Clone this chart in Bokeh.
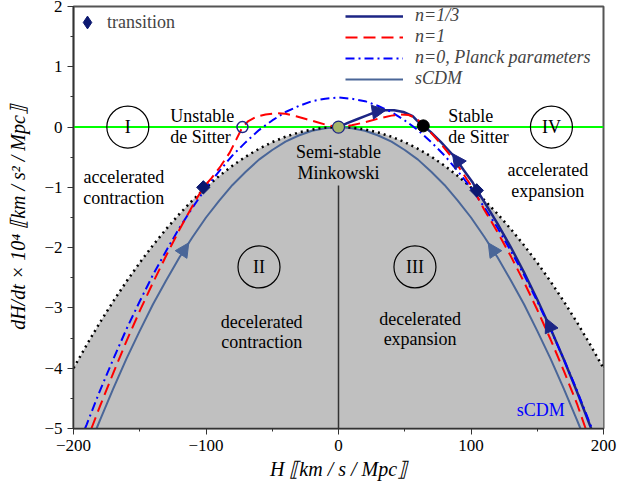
from bokeh.plotting import figure
from bokeh.models import (Range1d, SingleIntervalTicker, CustomJSTickFormatter, Legend,
                          LegendItem, Arrow, NormalHead, Span)
from bokeh.core.properties import value
from bokeh.embed import file_html
from bokeh.resources import INLINE

# ---------------- data ----------------
# q = 0 boundary (dotted): dH/dt = -H^2
BOUND_H = [-200, -190, -180, -170, -160, -150, -140, -130, -120, -110, -100, -90, -80, -70, -60, -50, -40,
           -30, -20, -10, 0, 10, 20, 30, 40, 50, 60, 70, 80, 90, 100, 110, 120, 130, 140, 150, 160,
           170, 180, 190, 200]
BOUND_Y = [-4.00, -3.61, -3.24, -2.89, -2.56, -2.25, -1.96, -1.69, -1.44, -1.21, -1.00, -0.81, -0.64,
           -0.49, -0.36, -0.25, -0.16, -0.09, -0.04, -0.01, 0.0, -0.01, -0.04, -0.09, -0.16, -0.25,
           -0.36, -0.49, -0.64, -0.81, -1.00, -1.21, -1.44, -1.69, -1.96, -2.25, -2.56, -2.89, -3.24,
           -3.61, -4.00]

# sCDM
SCDM_H = [-182.6, -180, -170, -160, -150, -140, -130, -120, -110, -100, -90, -80, -70, -60, -50, -40,
          -30, -20, -10, 0, 10, 20, 30, 40, 50, 60, 70, 80, 90, 100, 110, 120, 130, 140, 150, 160, 170,
          180, 182.6]
SCDM_Y = [-5.0, -4.86, -4.34, -3.84, -3.38, -2.94, -2.54, -2.16, -1.82, -1.50, -1.22, -0.96, -0.74,
          -0.54, -0.38, -0.24, -0.14, -0.06, -0.02, 0.0, -0.02, -0.06, -0.14, -0.24, -0.38, -0.54,
          -0.74, -0.96, -1.22, -1.50, -1.82, -2.16, -2.54, -2.94, -3.38, -3.84, -4.34, -4.86, -5.0]

# n = 0, Planck parameters
N0_H = [-191.3, -190, -180, -170, -160, -150, -140, -130, -120, -110, -100, -90, -80, -70, -60, -50,
        -40, -30, -20, -10, 0, 10, 20, 30, 40, 50, 60, 70, 80, 90, 100, 110, 120, 130, 140, 150, 160,
        170, 180, 190, 191.3]
N0_Y = [-5.0, -4.93, -4.37, -3.85, -3.35, -2.89, -2.45, -2.05, -1.67, -1.33, -1.01, -0.73, -0.47,
        -0.25, -0.05, 0.11, 0.25, 0.35, 0.43, 0.47, 0.49, 0.47, 0.43, 0.35, 0.25, 0.11, -0.05, -0.25,
        -0.47, -0.73, -1.01, -1.33, -1.67, -2.05, -2.45, -2.89, -3.35, -3.85, -4.37, -4.93, -5.0]

# n = 1
N1_H = [-186.5, -180, -170, -160, -150, -140, -130, -120, -110, -102, -96, -89, -82, -77, -72.5, -68,
        -62, -55, -47, -40, -32, -24, -16, -8, 0, 10, 20, 30, 40, 47, 53, 58, 62, 65, 70, 77, 85, 91,
        97, 101, 110, 120, 130, 140, 150, 160, 170, 180, 186.5]
N1_Y = [-5.0, -4.63, -4.08, -3.55, -3.05, -2.58, -2.13, -1.70, -1.30, -1.00, -0.85, -0.65, -0.42,
        -0.20, 0.0, 0.10, 0.17, 0.21, 0.23, 0.22, 0.18, 0.13, 0.08, 0.03, 0.0, 0.03, 0.08, 0.14, 0.19,
        0.21, 0.20, 0.15, 0.08, 0.02, -0.10, -0.27, -0.49, -0.67, -0.87, -1.00, -1.37, -1.74, -2.14,
        -2.57, -3.03, -3.52, -4.04, -4.59, -5.0]

# n = 1/3
N13_H = [0, 7, 14, 21, 28, 35, 42, 49, 56, 60, 64, 69.5, 77, 82, 87, 94.7, 101, 104.3, 110, 120, 130,
         140, 150, 160, 170, 180, 190.7]
N13_Y = [0.0, 0.07, 0.13, 0.19, 0.25, 0.28, 0.28, 0.25, 0.18, 0.09, 0.02, -0.08, -0.24, -0.36, -0.48,
         -0.72, -0.91, -1.04, -1.24, -1.60, -1.99, -2.41, -2.86, -3.34, -3.85, -4.39, -5.0]

# special points
TRANS_H, TRANS_Y = [-102, 104.3], [-1.0, -1.05]
UNSTABLE_DS = ([-72.5], [0.0])
STABLE_DS = ([64], [0.02])
MINKOWSKI = ([0], [0.0])
MINK_LINE_Y = [-0.97, -5.0]

# flow arrows: (x_start, y_start, x_end, y_end)
SCDM_ARROWS = [(-119, -2.12, -113, -1.92), (119, -2.12, 113, -1.92)]
N13_ARROWS = [(29, 0.26, 36, 0.285), (90.5, -0.58, 86, -0.44), (160, -3.34, 156.5, -3.17)]

# region markers and texts
ROMAN = ["I", "II", "III", "IV"]
ROMAN_H = [-159, -60, 57.7, 160.7]
ROMAN_Y = [0.0, -2.32, -2.32, 0.0]

CENTER_TXT = ["accelerated", "contraction", "accelerated", "expansion", "Semi-stable", "Minkowski",
              "decelerated", "contraction", "decelerated", "expansion"]
CENTER_H = [-162, -162, 158, 158, 0, 0, -58, -58, 61.6, 61.6]
CENTER_Y = [-0.83, -1.18, -0.72, -1.06, -0.41, -0.76, -3.23, -3.57, -3.18, -3.52]

LEFT_TXT = ["Unstable", "de Sitter", "Stable", "de Sitter"]
LEFT_H = [-127, -127, 82.8, 82.8]
LEFT_Y = [0.18, -0.17, 0.18, -0.17]

NAVY = "#1c2585"
RED = "#ff0000"
BLUE = "#0000ff"
STEEL = "#4a6698"
DIAM = "#0c1870"
SERIF = "Liberation Serif"

p = figure(width=631, height=486, x_range=Range1d(-200, 200), y_range=Range1d(-5, 2),
           output_backend="svg", toolbar_location=None,
           min_border_left=73, min_border_right=28, min_border_top=6, min_border_bottom=58)
p.xgrid.visible = False
p.ygrid.visible = False
p.outline_line_color = "#555555"
p.outline_line_width = 2
p.background_fill_color = "white"

# gray region
p.varea(x=BOUND_H, y1=[-5.0] * len(BOUND_H), y2=BOUND_Y, fill_color="#c0c0c0")
p.add_layout(Span(location=0, dimension="width", line_color="#00ff00", line_width=2, level="underlay"))
p.segment(x0=[MINKOWSKI[0][0]], y0=[MINK_LINE_Y[0]], x1=[MINKOWSKI[0][0]], y1=[MINK_LINE_Y[1]],
          line_color="#333333", line_width=1.5)

r_scdm = p.line(SCDM_H, SCDM_Y, line_color=STEEL, line_width=2)
p.line(BOUND_H, BOUND_Y, line_color="black", line_width=2.5, line_dash="2 4")
r_n13 = p.line(N13_H, N13_Y, line_color=NAVY, line_width=2.5)
r_n0 = p.line(N0_H, N0_Y, line_color=BLUE, line_width=2, line_dash="9 4 2 4")
r_n1 = p.line(N1_H, N1_Y, line_color=RED, line_width=2, line_dash="12 6")

for (xs, ys, xe, ye) in SCDM_ARROWS:
    p.add_layout(Arrow(end=NormalHead(size=14, fill_color=STEEL, line_color=STEEL),
                       x_start=xs, y_start=ys, x_end=xe, y_end=ye, line_alpha=0))
for (xs, ys, xe, ye) in N13_ARROWS:
    p.add_layout(Arrow(end=NormalHead(size=14, fill_color=NAVY, line_color=NAVY),
                       x_start=xs, y_start=ys, x_end=xe, y_end=ye, line_alpha=0))

# transition points: diamond glyph (used by the legend) covered by a rotated square
r_tr = p.scatter(TRANS_H, TRANS_Y, marker="diamond", size=12, fill_color=DIAM, line_color=DIAM)
p.scatter(TRANS_H, TRANS_Y, marker="square", size=9.5, angle=0.785,
          fill_color=DIAM, line_color=DIAM)
p.scatter(*UNSTABLE_DS, marker="circle", size=11, fill_alpha=0, line_color=NAVY, line_width=1.5)
p.scatter(*STABLE_DS, marker="circle", size=12, fill_color="black", line_color="black")
p.scatter(*MINKOWSKI, marker="circle", size=12, fill_color="#a4b46a", line_color=NAVY, line_width=1.2)

p.scatter(ROMAN_H, ROMAN_Y, marker="circle", size=42, fill_alpha=0, line_color="black", line_width=1.2)
p.text(ROMAN_H, ROMAN_Y, text=ROMAN, text_font=value(SERIF), text_font_size="18px",
       text_align="center", text_baseline="middle", text_color="black")
p.text(CENTER_H, CENTER_Y, text=CENTER_TXT, text_font=value(SERIF), text_font_size="18px",
       text_align="center", text_baseline="middle", text_color="black")
p.text(LEFT_H, LEFT_Y, text=LEFT_TXT, text_font=value(SERIF), text_font_size="18px",
       text_align="left", text_baseline="middle", text_color="black")
p.text([152.6], [-4.7], text=["sCDM"], text_font=value(SERIF), text_font_size="18px",
       text_align="center", text_baseline="middle", text_color=BLUE)

# axes
minus_fmt = CustomJSTickFormatter(code="return tick < 0 ? '\u2212' + Math.abs(tick) : String(tick);")
p.xaxis.ticker = SingleIntervalTicker(interval=100, num_minor_ticks=2)
p.yaxis.ticker = SingleIntervalTicker(interval=1, num_minor_ticks=2)
for ax in (p.xaxis[0], p.yaxis[0]):
    ax.formatter = minus_fmt
    ax.major_label_text_font = SERIF
    ax.major_label_text_font_size = "17px"
    ax.major_label_text_color = "black"
    ax.axis_line_color = "#333333"
    ax.axis_line_width = 1.5
    ax.major_tick_line_color = "#333333"
    ax.minor_tick_line_color = "#333333"
    ax.major_tick_out = 6
    ax.major_tick_in = 0
    ax.minor_tick_out = 3
    ax.minor_tick_in = 0
    ax.axis_label_text_font = SERIF
    ax.axis_label_text_font_style = "italic"
    ax.axis_label_text_font_size = "20px"
    ax.axis_label_text_color = "black"
p.xaxis.axis_label = "H \u27e6km / s / Mpc\u27e7"
p.yaxis.axis_label = "dH/dt \u00d7 10\u2074 \u27e6km / s\u00b2 / Mpc\u27e7"
p.xaxis.major_label_standoff = 5
p.xaxis.axis_label_standoff = 4
p.yaxis.major_label_standoff = 5
p.yaxis.axis_label_standoff = 12

leg = Legend(items=[LegendItem(label="n=1/3", renderers=[r_n13]),
                    LegendItem(label="n=1", renderers=[r_n1]),
                    LegendItem(label="n=0, Planck parameters", renderers=[r_n0]),
                    LegendItem(label="sCDM", renderers=[r_scdm])],
             location=(272, 339), glyph_width=58, glyph_height=20, label_height=20, spacing=0,
             padding=0, margin=0, label_standoff=12, border_line_alpha=0, background_fill_alpha=0,
             label_text_font=SERIF, label_text_font_style="italic", label_text_font_size="18px")
p.add_layout(leg)
leg2 = Legend(items=[LegendItem(label="transition", renderers=[r_tr])],
              location=(-2, 390), glyph_width=32, glyph_height=32, label_height=32, spacing=0,
              padding=0, margin=0, label_standoff=4, border_line_alpha=0, background_fill_alpha=0,
              label_text_font=SERIF, label_text_font_size="18px")
p.add_layout(leg2)

open("out.html", "w").write(file_html(p, INLINE))
